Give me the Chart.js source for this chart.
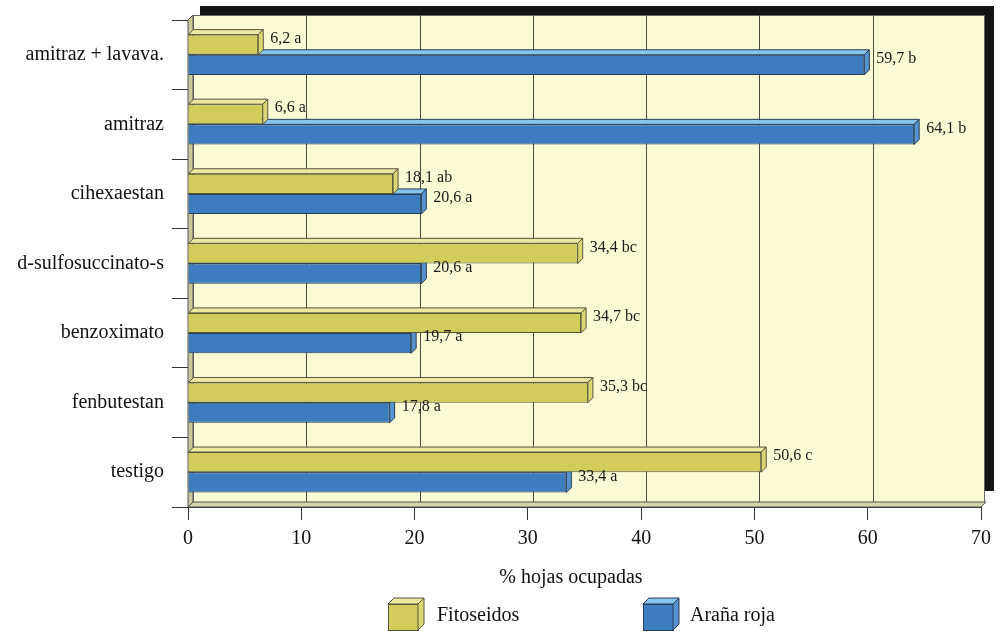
<!DOCTYPE html>
<html>
<head>
<meta charset="utf-8">
<script src="https://cdn.jsdelivr.net/npm/chart.js@4/dist/chart.umd.min.js"></script>
<style>
  html, body { margin: 0; padding: 0; background: #ffffff; }
  #wrap { width: 1001px; height: 632px; }
</style>
</head>
<body>
<div id="wrap"><canvas id="c" width="1001" height="632"></canvas></div>
<script>
// Treatments (top to bottom)
const categories = ['amitraz + lavava.', 'amitraz', 'cihexaestan', 'd-sulfosuccinato-s', 'benzoximato', 'fenbutestan', 'testigo'];
// % leaves occupied
const fitoseidos = [6.2, 6.6, 18.1, 34.4, 34.7, 35.3, 50.6];
const aranaRoja = [59.7, 64.1, 20.6, 20.6, 19.7, 17.8, 33.4];
// Significance letters
const fitoseidosLetters = ['a', 'a', 'ab', 'bc', 'bc', 'bc', 'c'];
const aranaLetters = ['b', 'b', 'a', 'a', 'a', 'a', 'a'];
const seriesNames = ['Fitoseidos', 'Araña roja'];
const xTicks = [0, 10, 20, 30, 40, 50, 60, 70];
const axisTitle = '% hojas ocupadas';

const SERIF = "'Liberation Serif', 'DejaVu Serif', serif";
const D = 5; // depth of the pseudo-3D extrusion

const faces = [
  { front: '#d2cd5a', top: '#ece8a2', side: '#dcd672', edge: '#55553a' },
  { front: '#3d7cbe', top: '#86c6ee', side: '#5592cf', edge: '#2a3d55' }
];

function fmt(v) { return v.toFixed(1).replace('.', ','); }

function poly(ctx, pts, fill, stroke) {
  ctx.beginPath();
  ctx.moveTo(pts[0][0], pts[0][1]);
  for (let i = 1; i < pts.length; i++) ctx.lineTo(pts[i][0], pts[i][1]);
  ctx.closePath();
  ctx.fillStyle = fill;
  ctx.fill();
  if (stroke) { ctx.strokeStyle = stroke; ctx.lineWidth = 1; ctx.stroke(); }
}

// Back wall, frame, side wall, floor and gridlines
const wallPlugin = {
  id: 'wall',
  beforeDatasetsDraw(chart) {
    const { ctx, chartArea: a, scales } = chart;
    const xs = scales.x;
    ctx.save();
    // dark frame behind the wall
    ctx.fillStyle = '#141414';
    ctx.fillRect(a.left + 12, a.top - 14, a.right - a.left + 1, a.bottom - a.top - 2);
    // back wall
    ctx.fillStyle = '#fafad4';
    ctx.fillRect(a.left + D, a.top - D, a.right - a.left - 2, a.bottom - a.top);
    ctx.strokeStyle = '#666';
    ctx.lineWidth = 1;
    ctx.strokeRect(a.left + D + 0.5, a.top - D + 0.5, a.right - a.left - 2, a.bottom - a.top);
    // vertical gridlines on the back wall
    ctx.strokeStyle = '#4a4a40';
    for (const v of xTicks) {
      if (v === 0 || v === 70) continue;
      const px = Math.round(xs.getPixelForValue(v)) + D + 0.5;
      ctx.beginPath();
      ctx.moveTo(px, a.top - D);
      ctx.lineTo(px, a.bottom - D);
      ctx.stroke();
    }
    // left side wall
    poly(ctx, [[a.left, a.top], [a.left + D, a.top - D], [a.left + D, a.bottom - D], [a.left, a.bottom]], '#c9c99c', '#555');
    // floor
    poly(ctx, [[a.left, a.bottom], [a.left + D, a.bottom - D], [a.right + D, a.bottom - D], [a.right, a.bottom]], '#d4d6aa', '#555');
    ctx.restore();
  },
  afterDatasetDraw(chart, args) {
    const { ctx } = chart;
    const f = faces[args.index];
    const meta = args.meta;
    ctx.save();
    meta.data.forEach(el => {
      const { x, y, base, height } = el.getProps(['x', 'y', 'base', 'height'], true);
      const top = y - height / 2, bot = y + height / 2;
      poly(ctx, [[base, top], [x, top], [x + D, top - D], [base + D, top - D]], f.top, f.edge);
      poly(ctx, [[x, top], [x + D, top - D], [x + D, bot - D], [x, bot]], f.side, f.edge);
    });
    ctx.restore();
  },
  afterDatasetsDraw(chart) {
    const { ctx } = chart;
    ctx.save();
    ctx.font = '16px ' + SERIF;
    ctx.fillStyle = '#1a1a1a';
    ctx.textAlign = 'left';
    ctx.textBaseline = 'middle';
    const letters = [fitoseidosLetters, aranaLetters];
    chart.data.datasets.forEach((ds, di) => {
      chart.getDatasetMeta(di).data.forEach((el, i) => {
        ctx.fillText(fmt(ds.data[i]) + ' ' + letters[di][i], el.x + 12, el.y - 6);
      });
    });
    ctx.restore();
  },
  afterDraw(chart) {
    const { ctx } = chart;
    ctx.save();
    // axis title
    ctx.font = '20px ' + SERIF;
    ctx.fillStyle = '#111';
    ctx.textAlign = 'center';
    ctx.textBaseline = 'middle';
    ctx.fillText(axisTitle, 571, 578);
    // legend with small boxes
    const items = [{ x: 388, tx: 437 }, { x: 643, tx: 690 }];
    items.forEach((it, i) => {
      const f = faces[i];
      const bx = it.x, by = 604, w = 30, h = 26, d = 6;
      ctx.fillStyle = f.front;
      ctx.fillRect(bx, by, w, h);
      ctx.strokeStyle = f.edge;
      ctx.lineWidth = 1;
      ctx.strokeRect(bx + 0.5, by + 0.5, w, h);
      poly(ctx, [[bx, by], [bx + w, by], [bx + w + d, by - d], [bx + d, by - d]], f.top, f.edge);
      poly(ctx, [[bx + w, by], [bx + w + d, by - d], [bx + w + d, by + h - d], [bx + w, by + h]], f.side, f.edge);
      ctx.font = '20px ' + SERIF;
      ctx.fillStyle = '#111';
      ctx.textAlign = 'left';
      ctx.textBaseline = 'middle';
      ctx.fillText(chart.data.datasets[i].label, it.tx, 616);
    });
    ctx.restore();
  }
};

new Chart(document.getElementById('c'), {
  type: 'bar',
  data: {
    labels: categories,
    datasets: [
      { label: seriesNames[0], data: fitoseidos, backgroundColor: faces[0].front, borderColor: faces[0].edge, borderWidth: 1 },
      { label: seriesNames[1], data: aranaRoja, backgroundColor: faces[1].front, borderColor: faces[1].edge, borderWidth: 1 }
    ]
  },
  options: {
    indexAxis: 'y',
    responsive: false,
    animation: false,
    devicePixelRatio: 1,
    layout: { padding: { top: 18, right: 20, bottom: 43, left: 0 } },
    datasets: { bar: { categoryPercentage: 0.58, barPercentage: 1 } },
    plugins: { legend: { display: false }, tooltip: { enabled: false } },
    scales: {
      x: {
        type: 'linear',
        min: 0,
        max: 70,
        afterBuildTicks(scale) { scale.ticks = xTicks.map(v => ({ value: v })); },
        afterFit(scale) { scale.height = 82; },
        grid: { drawOnChartArea: false, drawTicks: true, tickLength: 13, color: '#333' },
        border: { display: true, color: '#333' },
        ticks: { color: '#111', padding: 7, font: { family: SERIF, size: 20 } }
      },
      y: {
        type: 'category',
        offset: true,
        afterFit(scale) { scale.width = 188; },
        grid: { offset: true, drawOnChartArea: false, drawTicks: true, tickLength: 16, color: '#333' },
        border: { display: true, color: '#555' },
        ticks: { color: '#111', padding: 8, font: { family: SERIF, size: 20 } }
      }
    }
  },
  plugins: [wallPlugin]
});
</script>
</body>
</html>
